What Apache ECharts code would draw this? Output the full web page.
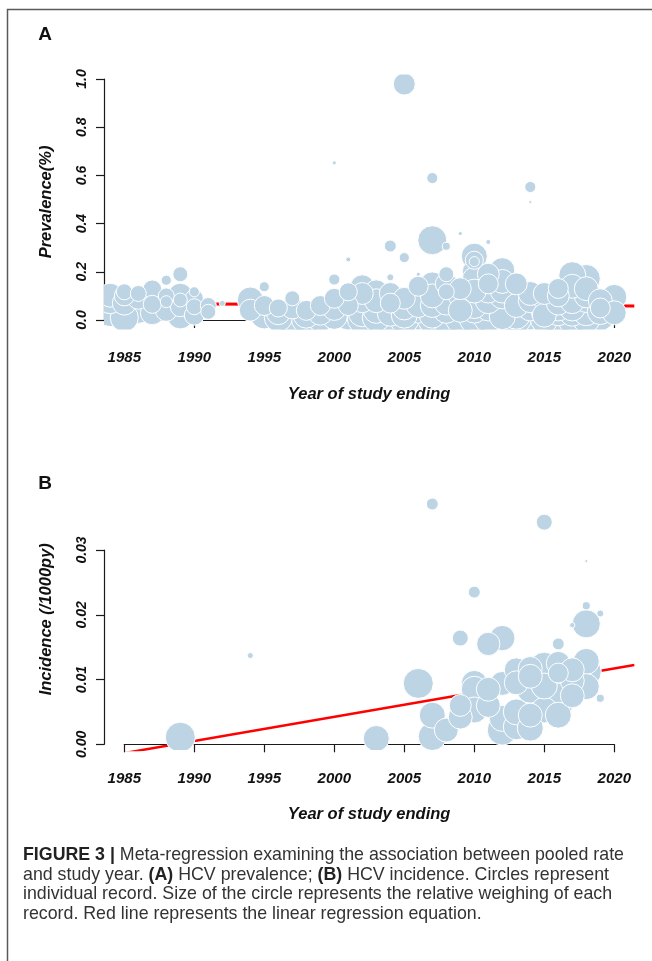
<!DOCTYPE html>
<html>
<head>
<meta charset="utf-8">
<script src="https://cdn.jsdelivr.net/npm/echarts@6/dist/echarts.min.js"></script>
<style>
  html, body { margin: 0; padding: 0; background: #fff; }
  #chart { width: 652px; height: 961px; }
</style>
</head>
<body>
<div id="chart"></div>
<script>
// ---------- Panel A: HCV prevalence ----------
const prevYears = [1984,1984,1985,1985,1986,1987,1987,1988,1988,1989,1989,1989,1989,1989,1990,1990,1991,1992,1994,1994,1995,1995,1996,1997,1997,1998,1998,1999,2000,2000,2000,2000,2001,2001,2001,2001,2002,2002,2002,2003,2003,2004,2004,2004,2004,2005,2005,2005,2005,2006,2006,2006,2006,2007,2007,2007,2007,2007,2008,2008,2008,2008,2008,2009,2009,2009,2010,2010,2010,2010,2010,2010,2010,2011,2011,2011,2011,2012,2012,2012,2012,2013,2013,2013,2014,2014,2014,2014,2015,2015,2015,2016,2016,2016,2017,2017,2017,2018,2018,2018,2018,2019,2019,2020,
  1984,1985,1985,1986,1986,1987,1988,1988,1990,1990,1991,1995,1996,1996,1997,1998,1999,1999,2000,2001,2002,2002,2003,2003,2004,2004,2005,2005,2006,2006,2007,2007,2007,2008,2008,2008,2009,2009,2009,2010,2010,2010,2010,2011,2011,2011,2012,2012,2012,2013,2013,2013,2014,2014,2015,2015,2015,2016,2016,2016,2017,2017,2017,2018,2018,2018,2019,2019,2020];
const prevValues = [0.103,0.035,0.070,0.117,0.048,0.127,0.065,0.165,0.076,0.190,0.103,0.083,0.017,0.055,0.117,0.055,0.034,0.069,0.083,0.041,0.138,0.021,0.030,0.090,0.007,0.020,0.040,0.028,0.652,0.168,0.048,0.015,0.021,0.117,0.251,0.060,0.138,0.030,0.080,0.117,0.040,0.307,0.177,0.028,0.070,0.979,0.259,0.050,0.020,0.190,0.103,0.021,0.060,0.589,0.331,0.150,0.060,0.020,0.306,0.190,0.117,0.021,0.070,0.359,0.100,0.040,0.265,0.248,0.242,0.200,0.145,0.090,0.041,0.324,0.120,0.050,0.150,0.207,0.070,0.014,0.120,0.124,0.060,0.020,0.552,0.490,0.021,0.080,0.055,0.090,0.020,0.131,0.030,0.070,0.186,0.028,0.076,0.172,0.060,0.100,0.030,0.014,0.050,0.096,
  0.080,0.010,0.100,0.090,0.110,0.030,0.100,0.040,0.090,0.020,0.060,0.060,0.010,0.050,0.050,0.005,0.060,0.010,0.090,0.090,0.005,0.110,0.080,0.010,0.110,0.005,0.090,0.005,0.140,0.045,0.100,0.040,0.005,0.150,0.040,0.005,0.070,0.130,0.005,0.170,0.120,0.060,0.005,0.080,0.190,0.010,0.160,0.100,0.040,0.090,0.150,0.004,0.110,0.050,0.110,0.035,0.004,0.100,0.050,0.005,0.140,0.050,0.005,0.130,0.085,0.005,0.080,0.035,0.030];
const prevWeights = [56,88,56,25,88,35,32,10,14,22,56,19,66,39,10,25,22,3.5,66,47,10,77,56,22,100,66,39,56,1.6,12,56,66,88,32,2.4,39,56,77,56,56,66,14,4.8,66,39,47,10,56,66,1.6,56,88,56,12,82,56,56,66,6.3,22,25,88,56,1.6,56,56,66,32,10,56,66,66,66,2.4,56,66,39,61,66,66,56,71,56,77,12,0.9,88,56,66,56,56,39,66,56,71,66,56,77,66,56,66,77,39,61,
  66,77,39,47,25,56,25,47,32,39,25,39,77,32,47,88,39,77,39,47,88,47,56,77,47,88,47,88,39,77,56,77,88,47,66,88,66,47,88,56,56,66,88,66,47,88,56,66,77,66,47,88,56,66,47,66,77,47,66,88,56,66,88,56,66,77,56,66,56];
const prevFitYears = [1983.55, 2021.43];
const prevFitValues = [0.0684, 0.0578];

// ---------- Panel B: HCV incidence ----------
const incYears = [1989,1994,2003,2006,2007,2007,2007,2008,2009,2009,2010,2010,2010,2010,2010,2011,2011,2012,2012,2012,2012,2013,2013,2013,2014,2014,2014,2015,2015,2015,2016,2016,2016,2016,2016,2016,2017,2017,2018,2018,2018,2018,2018,2018,2019,2019,
  2013,2014,2014,2015,2017,2017,2011,2009];
const incValues = [0.0011,0.0137,0.0009,0.0094,0.0371,0.0045,0.0012,0.0022,0.0164,0.0042,0.0235,0.0094,0.0085,0.0053,0.0068,0.0155,0.0060,0.0164,0.0094,0.0040,0.0022,0.0027,0.0115,0.0095,0.0117,0.0084,0.0045,0.0343,0.0119,0.0053,0.0155,0.0125,0.0110,0.0058,0.0045,0.0073,0.0184,0.0098,0.0283,0.0214,0.0186,0.0128,0.0089,0.0112,0.0202,0.0071,
  0.0050,0.0025,0.0105,0.0090,0.0115,0.0075,0.0085,0.0060];
const incWeights = [88,3.5,66,88,14,66,77,56,25,56,14,66,66,66,88,53,56,63,56,66,88,66,56,56,56,69,56,25,88,66,14,56,39,77,66,77,2.8,56,0.9,6.3,77,66,66,88,4.8,6.3,
  66,66,56,66,56,56,56,47];
const incFitYears = [1983.55, 2021.43];
const incFitValues = [-0.0019, 0.01225];

// axis tick settings
const yearMin = 1985, yearMax = 2020, yearStep = 5;
const prevTickMax = 1.0, prevTickStep = 0.2;
const incTickMax = 0.03, incTickStep = 0.01;

const FONT = '"Liberation Sans", Arial, Helvetica, sans-serif';
const BUBBLE = '#bcd4e4';
const AXIS_C = '#1a1a1a';
const MAX_R = 16;

function bubbles(years, values, weights) {
  const rows = years.map((y, i) => [y, values[i], weights[i]]);
  rows.sort((a, b) => b[2] - a[2]);
  return rows;
}
function fitLine(xs, ys) { return xs.map((x, i) => [x, ys[i]]); }

function renderBubble(params, api) {
  const p = api.coord([api.value(0), api.value(1)]);
  const r = MAX_R * Math.sqrt(api.value(2) / 100);
  return {
    type: 'circle',
    shape: { cx: p[0], cy: p[1], r: r },
    style: { fill: BUBBLE, stroke: '#ffffff', lineWidth: 1 }
  };
}

const labelStyle = { fontFamily: FONT, fontWeight: 'bold', fontStyle: 'italic', color: '#111' };
const nameStyle = { fontFamily: FONT, fontWeight: 'bold', fontStyle: 'italic', fontSize: 16.5, color: '#111' };

function dataX(gridIndex, name) {
  return {
    type: 'value', gridIndex, min: 1983.55, max: 2021.43,
    axisLine: { show: false }, axisTick: { show: false }, axisLabel: { show: false }, splitLine: { show: false },
    name, nameLocation: 'middle', nameGap: 56, nameTextStyle: nameStyle
  };
}
function dataY(gridIndex, min, max, name) {
  return {
    type: 'value', gridIndex, min, max,
    axisLine: { show: false }, axisTick: { show: false }, axisLabel: { show: false }, splitLine: { show: false },
    name, nameLocation: 'middle', nameGap: 49, nameTextStyle: nameStyle
  };
}
function tickX(gridIndex, offset) {
  return {
    type: 'value', gridIndex, min: yearMin, max: yearMax, interval: yearStep, offset,
    axisLine: { show: true, lineStyle: { color: AXIS_C, width: 1.2 } },
    axisTick: { show: true, length: 8, lineStyle: { color: AXIS_C, width: 1.2 } },
    axisLabel: Object.assign({ fontSize: 15, margin: 21, formatter: v => String(v) }, labelStyle),
    splitLine: { show: false }
  };
}
function tickY(gridIndex, max, step, dec) {
  return {
    type: 'value', gridIndex, min: 0, max, interval: step, offset: 20.3,
    axisLine: { show: true, lineStyle: { color: AXIS_C, width: 1.2 } },
    axisTick: { show: true, length: 8, lineStyle: { color: AXIS_C, width: 1.2 } },
    axisLabel: Object.assign({ fontSize: 14, margin: 15, rotate: 90, formatter: v => v.toFixed(dec) }, labelStyle),
    splitLine: { show: false }
  };
}

const chart = echarts.init(document.getElementById('chart'), null, { renderer: 'canvas' });

const CAP_FS = 17.8;
const captionRich = {
  b: { fontFamily: FONT, fontWeight: 'bold', fontSize: CAP_FS, fill: '#222' },
  n: { fontFamily: FONT, fontSize: CAP_FS, fill: '#333' }
};
function captionLine(y, text) {
  return { type: 'text', x: 23, y, style: { text, rich: captionRich, fontFamily: FONT, fontSize: CAP_FS, fill: '#333', verticalAlign: 'middle' } };
}

const option = {
  animation: false,
  backgroundColor: '#ffffff',
  grid: [
    { left: 104, top: 74.4, width: 530.3, height: 255.1, outerBoundsMode: 'none' },
    { left: 124.3, top: 79, width: 490, height: 241, outerBoundsMode: 'none' },
    { left: 104, top: 488.5, width: 530.3, height: 261.5, outerBoundsMode: 'none' },
    { left: 124.3, top: 550, width: 490, height: 194.3, outerBoundsMode: 'none' }
  ],
  xAxis: [
    dataX(0, 'Year of study ending'),
    tickX(1, 9.5),
    dataX(2, 'Year of study ending'),
    tickX(3, 5.7)
  ],
  yAxis: [
    dataY(0, -0.0394, 1.0192, 'Prevalence(%)'),
    tickY(1, prevTickMax, prevTickStep, 1),
    dataY(2, -0.00088, 0.0395, 'Incidence (/1000py)'),
    tickY(3, incTickMax, incTickStep, 2)
  ],
  series: [
    {
      type: 'line', xAxisIndex: 0, yAxisIndex: 0, data: fitLine(prevFitYears, prevFitValues),
      showSymbol: false, clip: true, z: 1, lineStyle: { color: '#ff0000', width: 3 }
    },
    {
      type: 'custom', xAxisIndex: 0, yAxisIndex: 0, clip: true, z: 2,
      data: bubbles(prevYears, prevValues, prevWeights), encode: { x: 0, y: 1 },
      renderItem: renderBubble
    },
    {
      type: 'line', xAxisIndex: 2, yAxisIndex: 2, data: fitLine(incFitYears, incFitValues),
      showSymbol: false, clip: true, z: 1, lineStyle: { color: '#ff0000', width: 2.5 }
    },
    {
      type: 'custom', xAxisIndex: 2, yAxisIndex: 2, clip: true, z: 2,
      data: bubbles(incYears, incValues, incWeights), encode: { x: 0, y: 1 },
      renderItem: renderBubble
    }
  ],
  graphic: [
    { type: 'rect', shape: { x: 7.5, y: 9.5, width: 800, height: 1000 }, style: { fill: 'none', stroke: '#5a5a5a', lineWidth: 1.5 }, silent: true },
    { type: 'text', x: 45, y: 35, style: { text: 'A', fontFamily: FONT, fontWeight: 'bold', fontSize: 19, fill: '#111', align: 'center', verticalAlign: 'middle' } },
    { type: 'text', x: 45, y: 484, style: { text: 'B', fontFamily: FONT, fontWeight: 'bold', fontSize: 19, fill: '#111', align: 'center', verticalAlign: 'middle' } },
    captionLine(855, '{b|FIGURE 3 |} {n|Meta-regression examining the association between pooled rate}'),
    captionLine(875, '{n|and study year. }{b|(A)}{n| HCV prevalence; }{b|(B)}{n| HCV incidence. Circles represent}'),
    captionLine(894.5, '{n|individual record. Size of the circle represents the relative weighing of each}'),
    captionLine(914, '{n|record. Red line represents the linear regression equation.}')
  ]
};
chart.setOption(option);
</script>
</body>
</html>
